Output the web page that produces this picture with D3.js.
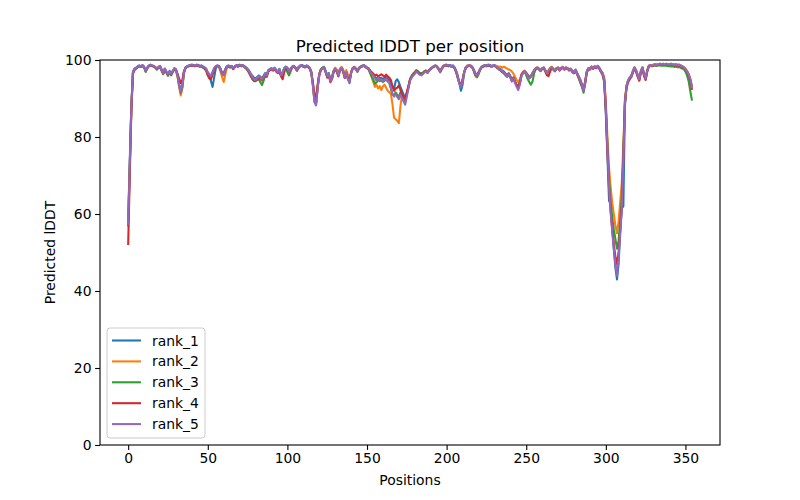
<!DOCTYPE html>
<html>
<head>
<meta charset="utf-8">
<script src="https://cdn.jsdelivr.net/npm/d3@7"></script>
<style>
  body { margin: 0; background: #fff; }
  svg { font-family: "DejaVu Sans", sans-serif; }
</style>
</head>
<body>
<div id="chart"></div>
<script>
// per-residue predicted lDDT, one array per model rank (index = position)
const rank1 = [
58.5,74,88.5,97.0,97.8,98.0,98.4,98.6,98.3,98.7,
98.3,97.0,98.1,98.6,98.8,98.5,98.5,98.1,97.6,98.2,
98.5,97.6,96.8,97.6,96.8,96.0,97.2,96.6,97.0,97.9,
97.6,96.2,93.8,91.9,93.4,96.9,98.1,98.4,98.6,98.7,
98.8,98.7,98.6,98.8,98.7,98.5,98.6,98.3,98.1,97.8,
96.5,95.8,94.5,93.0,95.5,97.8,98.5,98.5,97.8,96.6,
96.4,97.6,98.4,98.6,98.3,98.4,97.9,98.4,98.7,98.5,
98.8,98.6,98.7,98.4,98.1,97.7,97.2,96.5,95.9,95.4,
95.2,95.6,96.0,95.7,95.2,95.9,96.6,96.3,97.4,97.7,
97.9,97.6,98.0,97.4,97.0,97.7,96.2,96.8,97.9,98.3,
98.0,97.2,97.8,98.3,98.5,98.1,97.6,98.2,98.6,98.7,
98.5,98.3,98.6,98.4,98.0,97.0,94.0,89.8,88.8,93.0,
96.2,97.5,97.9,98.2,97.2,96.0,96.6,94.8,95.5,97.2,
97.9,97.4,96.3,97.6,98.1,97.4,95.8,97.0,95.3,94.0,
96.8,97.9,98.2,97.8,97.2,98.0,98.3,98.5,98.7,98.4,
98.1,97.9,97.2,96.6,96.2,95.6,95.0,95.7,95.2,95.4,
95.0,95.3,95.6,95.1,94.8,94.0,93.0,92.5,94.5,95.0,
94.2,93.0,92.0,91.0,90.0,91.5,93.0,94.8,95.6,96.2,
96.6,97.2,96.8,96.4,96.2,96.5,97.0,97.2,96.8,97.4,
97.8,98.1,98.4,98.6,98.3,97.8,97.2,97.9,98.5,98.7,
98.8,98.6,98.7,98.5,98.6,98.1,97.2,96.0,94.0,92.0,
93.5,96.6,98.1,98.5,98.7,98.6,98.3,97.6,96.6,96.2,
96.8,97.7,98.3,98.5,98.7,98.6,98.8,98.7,98.5,98.6,
98.7,98.4,98.1,97.8,97.6,97.2,97.0,96.5,96.1,96.6,
95.9,94.8,95.5,94.4,93.5,92.8,94.0,96.0,96.8,97.2,
96.7,96.1,95.6,95.9,96.7,97.4,97.9,98.1,97.8,97.4,
97.9,98.1,97.4,96.8,97.3,97.9,98.2,97.8,97.4,97.9,
98.1,97.6,98.0,98.2,97.8,98.1,97.9,97.6,97.8,97.2,
97.0,97.5,96.6,95.8,94.9,93.8,92.4,94.5,97.0,97.9,
97.8,98.3,97.9,98.4,98.1,98.5,97.9,97.2,96.6,94.5,
86.0,75.0,63.5,62.5,57.0,51.0,46.0,43.0,47.0,55.0,
61.5,62.0,88.0,93.4,94.8,95.5,96.0,97.2,98.1,97.4,
96.2,95.3,97.2,98.1,96.4,95.4,97.4,98.5,98.7,98.6,
98.8,98.9,98.8,98.9,99.0,98.9,99.0,98.9,99.0,98.9,
98.9,99.0,98.9,98.8,98.9,98.7,98.8,98.6,98.4,98.1,
97.7,97.1,96.4,95.2,93.3
];

const rank2 = [
58.0,72,87.5,96.6,97.5,97.8,98.2,98.4,98.3,98.5,
98.1,97.3,97.9,98.4,98.6,98.5,98.3,98.1,97.9,98.0,
98.3,97.3,96.5,97.7,96.9,96.3,96.9,96.3,97.1,97.7,
97.2,95.6,93.0,90.8,92.5,96.5,97.9,98.2,98.4,98.5,
98.6,98.5,98.4,98.6,98.5,98.3,98.4,98.1,97.9,97.5,
96.9,96.3,96.0,96.9,97.8,98.3,98.5,98.2,97.0,95.5,
94.3,96.2,98.0,98.4,98.1,98.4,97.7,98.2,98.5,98.3,
98.6,98.4,98.5,98.2,97.9,97.5,96.9,96.1,95.5,94.9,
94.7,95.2,95.7,95.3,94.8,95.5,96.3,95.9,97.1,97.5,
97.7,97.4,97.8,97.1,96.7,97.5,95.9,96.5,97.7,98.1,
97.8,97.1,97.5,98.1,98.3,97.9,97.3,98.0,98.4,98.5,
98.3,98.1,98.4,98.2,97.8,96.7,93.4,89.2,88.6,92.8,
95.9,97.3,97.7,98.0,96.9,95.7,96.3,94.6,95.4,97.2,
98.0,97.5,96.6,97.8,98.2,97.6,96.0,97.4,96.2,95.0,
96.9,97.9,98.2,97.8,97.3,98.0,98.3,98.5,98.6,98.2,
97.9,97.5,96.5,95.5,94.2,93.0,93.5,92.6,93.2,92.2,
93.2,93.6,92.8,92.0,91.6,91.2,88.5,85.0,84.6,84.2,
83.6,88.0,91.0,90.2,89.5,91.2,93.0,94.8,95.5,96.1,
96.5,97.1,96.7,96.3,96.1,96.4,96.9,97.1,96.7,97.3,
97.7,98.1,98.4,98.6,98.3,97.7,97.1,97.9,98.5,98.7,
98.6,98.4,98.5,98.3,98.4,97.9,96.9,95.6,94.2,93.5,
94.8,96.9,98.1,98.5,98.7,98.6,98.3,97.3,96.0,95.6,
96.4,97.5,98.1,98.3,98.5,98.4,98.6,98.5,98.3,98.4,
98.6,98.5,98.4,98.2,98.3,98.0,98.3,98.0,97.8,97.5,
97.4,97.0,96.4,95.6,94.8,94.2,95.0,96.4,97.0,97.2,
96.6,96.0,95.5,95.8,96.6,97.3,97.9,98.1,97.7,97.3,
97.9,98.1,97.3,96.7,97.3,97.9,98.2,97.7,97.3,97.9,
98.1,97.5,98.0,98.2,97.7,98.1,97.9,97.5,97.7,97.1,
96.9,97.5,96.5,95.7,94.7,93.5,92.2,94.3,96.9,97.9,
97.7,98.3,97.9,98.4,98.1,98.5,97.9,97.1,96.6,95.5,
89.0,80.0,72.0,67.0,63.0,60.0,57.0,55.0,58.0,63.0,
68.0,78.0,90.0,93.3,94.7,95.4,95.9,97.1,98.1,97.3,
96.1,95.1,97.1,98.1,96.3,95.3,97.3,98.5,98.7,98.6,
98.8,98.9,98.8,98.9,99.0,98.9,99.0,98.9,99.0,98.9,
98.9,99.0,98.9,98.8,98.9,98.7,98.8,98.6,98.4,98.1,
97.7,97.1,96.3,95.1,93.2
];

const rank3 = [
57.0,72.5,87.8,96.7,97.5,97.8,98.2,98.4,98.2,98.5,
98.0,96.9,97.8,98.4,98.6,98.5,98.3,98.0,97.5,97.9,
98.2,97.2,96.3,97.5,96.7,95.9,96.8,96.0,96.8,97.6,
97.3,95.8,93.4,91.4,93.0,96.6,97.9,98.2,98.4,98.5,
98.6,98.5,98.4,98.6,98.5,98.3,98.4,98.0,97.7,97.2,
96.2,95.8,95.5,96.6,97.7,98.3,98.5,98.3,97.5,96.3,
96.0,97.4,98.2,98.4,98.1,98.4,97.6,98.2,98.5,98.3,
98.6,98.4,98.5,98.2,97.8,97.3,96.6,95.8,95.0,94.5,
94.5,94.8,95.0,94.2,93.5,94.6,95.8,95.6,96.9,97.4,
97.6,97.3,97.7,97.0,96.6,97.4,95.8,96.4,97.6,98.0,
96.8,96.0,97.0,98.0,98.3,97.9,97.2,98.0,98.4,98.5,
98.3,98.1,98.4,98.2,97.7,96.6,93.6,89.5,88.9,93.0,
96.3,97.6,98.0,98.2,97.1,95.9,96.5,94.7,95.3,96.9,
97.6,97.0,95.8,97.3,97.9,97.0,95.3,96.6,95.1,94.6,
96.5,97.7,98.0,97.5,96.9,97.8,98.1,98.3,98.5,98.2,
97.9,97.6,96.6,95.6,94.8,93.8,94.2,94.8,94.5,94.7,
94.3,94.6,95.0,94.4,94.0,92.6,91.0,90.8,91.6,90.9,
90.5,91.6,91.0,90.2,89.4,91.2,93.0,95.0,95.9,96.5,
96.9,97.4,97.1,96.7,96.5,96.7,97.1,97.3,96.9,97.4,
97.7,98.0,98.3,98.5,98.2,97.5,96.8,97.7,98.3,98.5,
98.6,98.4,98.5,98.3,98.4,97.8,96.8,95.3,93.9,93.4,
94.6,96.7,97.9,98.3,98.5,98.4,98.1,97.2,96.0,95.5,
96.2,97.4,98.1,98.3,98.5,98.4,98.6,98.5,98.3,98.4,
98.5,98.2,97.9,97.5,97.2,96.8,96.5,96.0,95.6,96.1,
95.4,94.6,95.4,94.3,93.5,93.0,94.2,96.0,96.7,97.0,
96.0,95.0,94.2,93.6,94.5,96.6,97.6,97.9,97.5,97.1,
97.7,97.9,97.1,96.4,97.0,97.7,98.0,97.5,97.1,97.7,
97.9,97.3,97.8,98.0,97.5,97.9,97.7,97.3,97.5,96.8,
96.5,97.2,96.2,95.2,94.0,93.0,91.5,93.8,96.6,97.7,
97.5,98.1,97.7,98.2,97.9,98.3,97.6,96.8,96.0,94.2,
87.0,78.0,69.0,63.0,59.0,56.0,53.5,51.0,53.0,58.0,
64.0,76.0,89.0,93.0,94.4,95.1,95.6,96.8,97.9,97.1,
95.9,94.8,96.8,97.9,96.0,95.0,97.0,98.3,98.5,98.4,
98.5,98.6,98.5,98.6,98.6,98.5,98.6,98.5,98.5,98.4,
98.4,98.3,98.4,98.2,98.3,98.1,98.2,98.0,97.8,97.6,
97.0,96.0,94.5,92.0,89.7
];

const rank4 = [
52.2,70.0,87.0,96.5,97.4,97.8,98.2,98.4,98.3,98.5,
98.1,97.3,97.9,98.4,98.6,98.5,98.3,98.1,97.7,98.0,
98.3,97.3,96.5,97.7,96.9,96.1,96.9,96.3,97.1,97.7,
97.5,96.4,95.2,94.0,94.8,97.0,98.0,98.2,98.4,98.5,
98.6,98.5,98.4,98.6,98.5,98.3,98.4,98.1,97.8,97.2,
96.0,95.2,95.0,96.2,97.6,98.3,98.5,98.3,97.5,96.6,
96.4,97.6,98.2,98.4,98.1,98.4,97.7,98.2,98.5,98.3,
98.6,98.4,98.5,98.2,97.9,97.4,96.7,95.8,95.2,94.7,
94.6,95.0,95.5,95.1,94.7,95.4,96.2,95.8,97.0,97.4,
97.6,97.3,97.7,97.0,96.6,97.0,95.8,95.0,96.8,98.0,
97.8,96.9,97.5,98.1,98.3,97.9,97.3,98.0,98.4,98.5,
98.3,98.1,98.4,98.2,97.8,96.9,94.2,91.0,90.5,93.6,
96.3,97.5,97.9,98.0,96.8,95.4,96.0,94.2,95.0,96.8,
97.6,97.0,95.8,97.3,97.8,97.0,95.4,96.6,95.2,94.6,
96.7,97.8,98.1,97.7,97.1,97.9,98.2,98.4,98.5,98.2,
97.9,97.7,97.2,96.8,96.4,96.0,96.2,95.8,96.0,96.3,
96.0,95.6,96.2,95.8,95.4,94.8,93.2,92.0,92.6,92.8,
93.4,92.2,91.0,90.4,90.0,91.6,93.2,94.9,95.6,96.2,
96.6,97.1,96.8,96.4,96.2,96.5,96.9,97.1,96.7,97.3,
97.7,98.0,98.3,98.5,98.2,97.6,97.0,97.8,98.4,98.6,
98.6,98.4,98.5,98.3,98.4,97.9,96.9,95.4,94.0,93.6,
94.9,96.8,97.9,98.3,98.5,98.4,98.1,97.3,96.3,96.0,
96.6,97.5,98.1,98.3,98.5,98.4,98.6,98.5,98.3,98.4,
98.5,98.2,97.9,97.5,97.3,96.9,96.7,96.2,95.9,96.4,
95.7,94.6,95.3,94.2,93.4,93.0,94.2,96.0,96.7,97.0,
96.5,95.9,95.4,95.7,96.5,97.2,97.8,98.0,97.6,97.2,
97.7,97.9,97.0,96.0,95.8,97.0,97.9,97.5,97.1,97.7,
97.9,97.3,97.8,98.0,97.5,97.9,97.7,97.3,97.5,96.9,
96.7,97.3,96.3,95.5,94.4,93.2,92.2,94.0,96.7,97.7,
97.5,98.1,97.7,98.2,97.9,98.3,97.7,96.9,96.4,94.8,
87.0,76.0,67.0,61.0,56.0,52.0,49.0,47.0,50.0,56.0,
62.0,75.0,89.0,92.8,94.2,95.0,95.6,96.8,97.8,96.9,
95.6,94.6,96.8,97.8,95.8,94.8,97.0,98.3,98.5,98.4,
98.6,98.7,98.6,98.7,98.8,98.7,98.8,98.7,98.8,98.7,
98.7,98.8,98.7,98.6,98.7,98.5,98.6,98.4,98.2,97.9,
97.5,96.9,96.0,94.6,92.5
];

const rank5 = [
57.5,73,88,96.8,97.6,97.9,98.3,98.5,98.4,98.6,
98.2,97.2,98.0,98.5,98.7,98.6,98.4,98.2,97.8,98.1,
98.4,97.4,96.6,97.8,97.0,96.2,97.0,96.4,97.2,97.8,
97.5,96.0,93.5,91.6,93.0,96.8,98.0,98.3,98.5,98.6,
98.7,98.6,98.5,98.7,98.6,98.4,98.5,98.2,98.0,97.6,
96.8,96.2,95.8,96.8,97.9,98.4,98.6,98.4,97.6,96.4,
96.2,97.5,98.3,98.5,98.2,98.5,97.8,98.3,98.6,98.4,
98.7,98.5,98.6,98.3,98.0,97.6,97.0,96.2,95.6,95.0,
94.8,95.3,95.8,95.4,94.9,95.6,96.4,96.0,97.2,97.6,
97.8,97.5,97.9,97.2,96.8,97.6,96.0,96.6,97.8,98.2,
97.9,97.0,97.6,98.2,98.4,98.0,97.4,98.1,98.5,98.6,
98.4,98.2,98.5,98.3,97.9,96.8,93.5,89.0,88.2,92.5,
96.0,97.4,97.8,98.1,97.0,95.8,96.4,94.5,95.2,97.0,
97.8,97.2,96.0,97.5,98.0,97.2,95.5,96.8,95.0,94.2,
96.6,97.8,98.1,97.6,97.0,97.9,98.2,98.4,98.6,98.3,
98.0,97.8,97.0,96.4,96.0,95.2,94.6,95.4,94.8,95.0,
94.5,94.8,95.2,94.6,94.2,92.8,91.2,90.5,91.2,90.4,
89.8,91.0,90.2,89.2,88.4,90.5,92.5,94.6,95.4,96.0,
96.4,97.0,96.6,96.2,96.0,96.3,96.8,97.0,96.6,97.2,
97.6,98.0,98.3,98.5,98.2,97.6,97.0,97.8,98.4,98.6,
98.7,98.5,98.6,98.4,98.5,98.0,97.0,95.5,93.8,93.0,
94.5,96.8,98.0,98.4,98.6,98.5,98.2,97.4,96.4,96.0,
96.6,97.6,98.2,98.4,98.6,98.5,98.7,98.6,98.4,98.5,
98.6,98.3,98.0,97.6,97.4,97.0,96.8,96.2,95.8,96.4,
95.6,94.4,95.2,94.0,93.0,92.2,93.6,95.8,96.6,97.0,
96.4,95.8,95.2,95.6,96.5,97.2,97.8,98.0,97.6,97.2,
97.8,98.0,97.2,96.6,97.2,97.8,98.1,97.6,97.2,97.8,
98.0,97.4,97.9,98.1,97.6,98.0,97.8,97.4,97.6,97.0,
96.8,97.4,96.4,95.6,94.6,93.4,92.0,94.2,96.8,97.8,
97.6,98.2,97.8,98.3,98.0,98.4,97.8,97.0,96.5,95.0,
88.0,77.0,67.0,60.5,55.5,51.0,47.0,44.0,48.5,55.0,
61.0,74.0,89.0,93.2,94.6,95.3,95.8,97.0,98.0,97.2,
96.0,95.0,97.0,98.0,96.2,95.2,97.2,98.4,98.6,98.5,
98.7,98.8,98.7,98.8,98.9,98.8,98.9,98.8,98.9,98.8,
98.8,98.9,98.8,98.7,98.8,98.6,98.7,98.5,98.3,98.0,
97.6,97.0,96.2,95.0,93.0
];

const seriesNames = ["rank_1", "rank_2", "rank_3", "rank_4", "rank_5"];
const seriesValues = [rank1, rank2, rank3, rank4, rank5];
const colors = ["#1f77b4", "#ff7f0e", "#2ca02c", "#d62728", "#9467bd"];
const xTicks = [0, 50, 100, 150, 200, 250, 300, 350];
const yTicks = [0, 20, 40, 60, 80, 100];

const margin = { top: 60, right: 80, bottom: 55, left: 100 };
const width = 800 - margin.left - margin.right;
const height = 500 - margin.top - margin.bottom;

const svg = d3.select("#chart")
    .append("svg")
    .attr("width", 800)
    .attr("height", 500);

const g = svg.append("g")
    .attr("transform", `translate(${margin.left}, ${margin.top})`);

// matplotlib-like 5% padding on x, fixed 0..100 on y
const last = rank1.length - 1;
const x = d3.scaleLinear()
    .domain([-0.05 * last, 1.05 * last])
    .range([0, width]);

const y = d3.scaleLinear()
    .domain([0, 100])
    .range([height, 0]);

const xAxis = g.append("g")
    .attr("transform", `translate(0, ${height})`)
    .call(d3.axisBottom(x).tickValues(xTicks).tickSize(4.9).tickPadding(3.6).tickSizeOuter(0));

const yAxis = g.append("g")
    .call(d3.axisLeft(y).tickValues(yTicks).tickSize(4.9).tickPadding(3.6).tickSizeOuter(0));

[xAxis, yAxis].forEach(a => {
    a.select(".domain").remove();
    a.attr("font-family", "DejaVu Sans, sans-serif").attr("font-size", 13.9);
    a.selectAll(".tick line").attr("stroke", "#000").attr("stroke-width", 1.1);
    a.selectAll(".tick text").attr("fill", "#000");
});

const line = d3.line()
    .x((d, i) => x(i))
    .y(d => y(d));

g.selectAll("path.series")
    .data(seriesValues)
    .enter()
    .append("path")
    .attr("class", "series")
    .attr("d", d => line(d))
    .attr("fill", "none")
    .attr("stroke", (d, i) => colors[i])
    .attr("stroke-width", 2.08)
    .attr("stroke-linejoin", "round")
    .attr("stroke-linecap", "square");

g.append("rect")
    .attr("width", width)
    .attr("height", height)
    .attr("fill", "none")
    .attr("stroke", "#000")
    .attr("stroke-width", 1.1);

// title and axis labels
svg.append("text")
    .attr("x", margin.left + width / 2)
    .attr("y", 52)
    .attr("text-anchor", "middle")
    .attr("font-size", 16.7)
    .text("Predicted lDDT per position");

svg.append("text")
    .attr("x", margin.left + width / 2)
    .attr("y", 485)
    .attr("text-anchor", "middle")
    .attr("font-size", 13.9)
    .text("Positions");

svg.append("text")
    .attr("transform", `translate(55, ${margin.top + height / 2}) rotate(-90)`)
    .attr("text-anchor", "middle")
    .attr("font-size", 13.9)
    .text("Predicted lDDT");

// legend, lower left
const legend = svg.append("g").attr("transform", "translate(107, 328)");
legend.append("rect")
    .attr("width", 98)
    .attr("height", 110)
    .attr("rx", 3)
    .attr("fill", "#fff")
    .attr("fill-opacity", 0.8)
    .attr("stroke", "#cccccc")
    .attr("stroke-width", 1);

const items = legend.selectAll("g.item")
    .data(seriesNames)
    .enter()
    .append("g")
    .attr("class", "item")
    .attr("transform", (d, i) => `translate(0, ${12.5 + i * 20.9})`);

items.append("line")
    .attr("x1", 5).attr("x2", 34)
    .attr("stroke", (d, i) => colors[i])
    .attr("stroke-width", 2.08);

items.append("text")
    .attr("x", 45)
    .attr("y", 5)
    .attr("font-size", 13.9)
    .text(d => d);
</script>
</body>
</html>
